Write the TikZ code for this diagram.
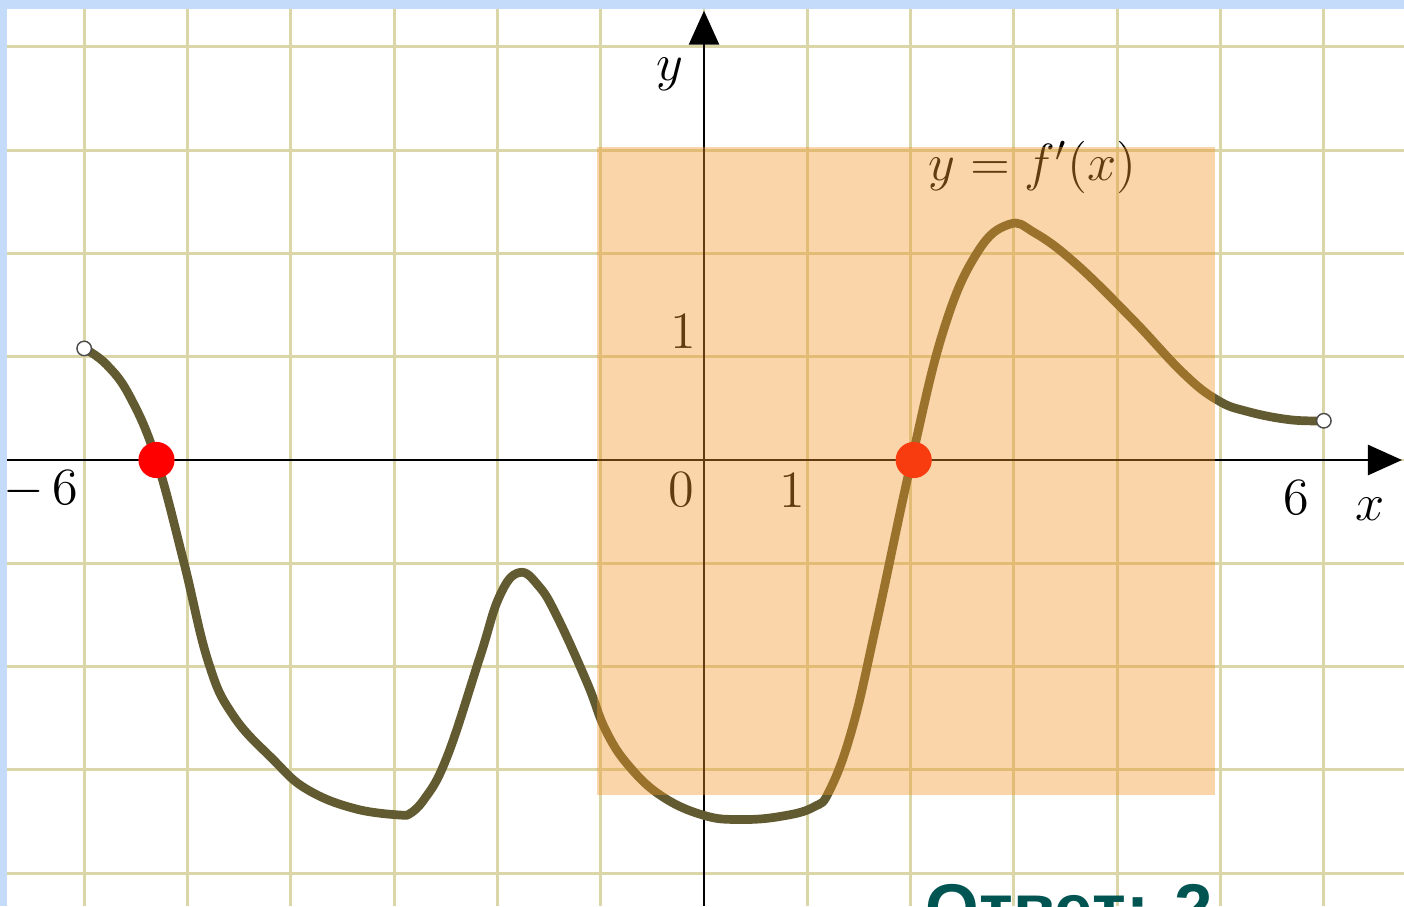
\documentclass[tikz,border=0pt]{standalone}
\usepackage{fontspec}
\newfontfamily\answerfont{Liberation Sans}
\usepackage{tikz}
\usetikzlibrary{arrows.meta,calc}
\definecolor{GrafGrid}{HTML}{DAD6A8}
\definecolor{GrafCurve}{HTML}{625A30}
\definecolor{GrafRed}{HTML}{FF0000}
\definecolor{GrafOrange}{HTML}{F09628}
\definecolor{GrafFrame}{HTML}{C4DCFA}
\definecolor{GrafTeal}{HTML}{005552}
\tikzset{
  gridline/.style={draw=GrafGrid,line width=0.8pt},
  axisline/.style={draw=black,line width=0.8pt,-{Triangle[length=3.3mm,width=2.9mm]}},
  fcurve/.style={draw=GrafCurve,line width=2.4pt,line cap=round,line join=round},
  zerodot/.style={circle,fill=GrafRed,inner sep=0pt,minimum size=3.5mm},
  holedot/.style={circle,draw=black!70,fill=white,line width=0.4pt,inner sep=0pt,minimum size=1.4mm},
  lbl/.style={font=\Large,inner sep=0pt},
  focusband/.style={fill=GrafOrange,fill opacity=0.4},
  answer/.style={font=\answerfont\bfseries\fontsize{19}{22}\selectfont,text=GrafTeal,
    inner sep=0pt,anchor=base west}
}

\begin{document}
\begin{tikzpicture}
  \coordinate (sw) at (-6.815,-4.318);
  \coordinate (ne) at (6.776,4.453);
  \useasboundingbox (sw) rectangle (ne);
  \clip (sw) rectangle (ne);
  \fill[white] (sw) rectangle (ne);
  % grid
  \foreach \i in {-6,...,6}
    \draw[gridline] (\i,-4.318) -- (\i,4.453);
  \foreach \j in {-4,...,4}
    \draw[gridline] (-6.815,\j) -- (6.776,\j);
  % axes
  \coordinate (xfrom) at (-6.815,0);
  \coordinate (xto) at (6.757,0);
  \coordinate (yfrom) at (0,-4.318);
  \coordinate (yto) at (0,4.35);
  \draw[axisline] (xfrom) -- (xto);
  \draw[axisline] (yfrom) -- (yto);
  % graph of f'
  \draw[fcurve] plot[smooth,tension=0.7] coordinates {(-6,1.08) (-5.78,0.92) (-5.55,0.6)
      (-5.3,0) (-5.04,-0.97) (-4.8,-1.95) (-4.56,-2.47) (-4.17,-2.9) (-3.84,-3.19)
      (-3.36,-3.38) (-2.88,-3.44)}
    -- plot[smooth,tension=0.7] coordinates {(-2.88,-3.44) (-2.72,-3.3) (-2.49,-2.88)
      (-2.17,-1.91) (-1.98,-1.32) (-1.79,-1.09) (-1.6,-1.22) (-1.42,-1.52) (-1.13,-2.16)
      (-0.95,-2.62) (-0.72,-2.97) (-0.4,-3.26) (0,-3.44) (0.35,-3.48) (0.74,-3.45)
      (1.06,-3.36) (1.22,-3.19) (1.44,-2.58) (1.67,-1.58) (2.01,0) (2.32,1.26) (2.64,2.0)
      (2.95,2.28) (3.2,2.2) (3.6,1.9) (4.15,1.36) (4.64,0.84) (4.97,0.58) (5.26,0.47)
      (5.67,0.39) (6,0.38)};
  \node[holedot] (open1) at (-6,1.08) {};
  \node[holedot] (open2) at (6,0.38) {};
  \node[zerodot] (root1) at (-5.3,0) {};
  \node[zerodot] (root2) at (2.03,0) {};
  % labels
  \node[lbl] (ylab) at (-0.33,3.73) {$y$};
  \node[lbl] (xlab) at (6.45,-0.48) {$x$};
  \node[lbl] (yone) at (-0.2,1.25) {1};
  \node[lbl] (orig) at (-0.22,-0.29) {0};
  \node[lbl] (xone) at (0.85,-0.29) {1};
  \node[lbl] (xsix) at (5.73,-0.36) {6};
  \node[lbl] (xmsix) at (-6.42,-0.29) {$-\,6$};
  \node[lbl] (fname) at (3.18,2.83) {$y=f'(x)$};
  % highlighted band
  \fill[focusband] (-1.036,-3.243) rectangle (4.947,3.03);
  \node[answer] (otvet) at (2.14,-4.57) {Ответ: 2};
  % frame
  \fill[GrafFrame] (-6.815,4.366) rectangle (ne);
  \fill[GrafFrame] (sw) rectangle (-6.747,4.453);
\end{tikzpicture}
\end{document}
